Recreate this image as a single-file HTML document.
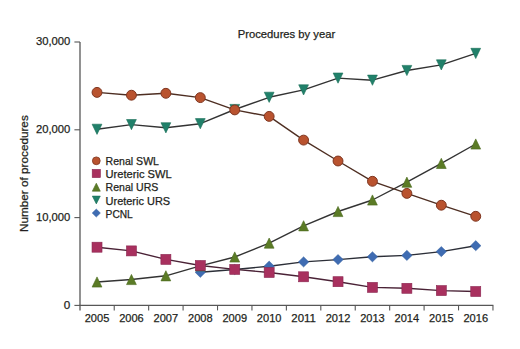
<!DOCTYPE html>
<html><head><meta charset="utf-8"><style>
html,body{margin:0;padding:0;background:#fff;}
svg{display:block;}
text{font-family:"Liberation Sans", sans-serif;fill:#231f20;stroke:#231f20;stroke-width:0.25px;}
</style></head><body>
<svg width="520" height="349" viewBox="0 0 520 349">
<rect width="520" height="349" fill="#fff"/>
<line x1="80" y1="41.9" x2="80" y2="310.4" stroke="#575757" stroke-width="1.3"/>
<line x1="79.4" y1="305.4" x2="493.4" y2="305.4" stroke="#575757" stroke-width="1.1"/>
<line x1="74.4" y1="42.0" x2="80" y2="42.0" stroke="#575757" stroke-width="1.1"/>
<line x1="74.4" y1="129.8" x2="80" y2="129.8" stroke="#575757" stroke-width="1.1"/>
<line x1="74.4" y1="217.6" x2="80" y2="217.6" stroke="#575757" stroke-width="1.1"/>
<line x1="74.4" y1="305.4" x2="80" y2="305.4" stroke="#575757" stroke-width="1.1"/>
<line x1="114.23" y1="305.4" x2="114.23" y2="310.4" stroke="#575757" stroke-width="1.1"/>
<line x1="148.66" y1="305.4" x2="148.66" y2="310.4" stroke="#575757" stroke-width="1.1"/>
<line x1="183.09" y1="305.4" x2="183.09" y2="310.4" stroke="#575757" stroke-width="1.1"/>
<line x1="217.52" y1="305.4" x2="217.52" y2="310.4" stroke="#575757" stroke-width="1.1"/>
<line x1="251.95" y1="305.4" x2="251.95" y2="310.4" stroke="#575757" stroke-width="1.1"/>
<line x1="286.38" y1="305.4" x2="286.38" y2="310.4" stroke="#575757" stroke-width="1.1"/>
<line x1="320.81" y1="305.4" x2="320.81" y2="310.4" stroke="#575757" stroke-width="1.1"/>
<line x1="355.24" y1="305.4" x2="355.24" y2="310.4" stroke="#575757" stroke-width="1.1"/>
<line x1="389.67" y1="305.4" x2="389.67" y2="310.4" stroke="#575757" stroke-width="1.1"/>
<line x1="424.10" y1="305.4" x2="424.10" y2="310.4" stroke="#575757" stroke-width="1.1"/>
<line x1="458.53" y1="305.4" x2="458.53" y2="310.4" stroke="#575757" stroke-width="1.1"/>
<line x1="492.96" y1="305.4" x2="492.96" y2="310.4" stroke="#575757" stroke-width="1.1"/>
<text x="70.3" y="45.4" text-anchor="end" font-size="11.7" textLength="34.4" lengthAdjust="spacingAndGlyphs">30,000</text>
<text x="70.3" y="133.2" text-anchor="end" font-size="11.7" textLength="34.4" lengthAdjust="spacingAndGlyphs">20,000</text>
<text x="70.3" y="221.0" text-anchor="end" font-size="11.7" textLength="34.4" lengthAdjust="spacingAndGlyphs">10,000</text>
<text x="70.3" y="308.8" text-anchor="end" font-size="11.7">0</text>
<text x="97.02" y="321.7" text-anchor="middle" font-size="11.7" textLength="24.6" lengthAdjust="spacingAndGlyphs">2005</text>
<text x="131.44" y="321.7" text-anchor="middle" font-size="11.7" textLength="24.6" lengthAdjust="spacingAndGlyphs">2006</text>
<text x="165.88" y="321.7" text-anchor="middle" font-size="11.7" textLength="24.6" lengthAdjust="spacingAndGlyphs">2007</text>
<text x="200.31" y="321.7" text-anchor="middle" font-size="11.7" textLength="24.6" lengthAdjust="spacingAndGlyphs">2008</text>
<text x="234.74" y="321.7" text-anchor="middle" font-size="11.7" textLength="24.6" lengthAdjust="spacingAndGlyphs">2009</text>
<text x="269.17" y="321.7" text-anchor="middle" font-size="11.7" textLength="24.6" lengthAdjust="spacingAndGlyphs">2010</text>
<text x="303.59" y="321.7" text-anchor="middle" font-size="11.7" textLength="24.6" lengthAdjust="spacingAndGlyphs">2011</text>
<text x="338.03" y="321.7" text-anchor="middle" font-size="11.7" textLength="24.6" lengthAdjust="spacingAndGlyphs">2012</text>
<text x="372.45" y="321.7" text-anchor="middle" font-size="11.7" textLength="24.6" lengthAdjust="spacingAndGlyphs">2013</text>
<text x="406.88" y="321.7" text-anchor="middle" font-size="11.7" textLength="24.6" lengthAdjust="spacingAndGlyphs">2014</text>
<text x="441.31" y="321.7" text-anchor="middle" font-size="11.7" textLength="24.6" lengthAdjust="spacingAndGlyphs">2015</text>
<text x="475.75" y="321.7" text-anchor="middle" font-size="11.7" textLength="24.6" lengthAdjust="spacingAndGlyphs">2016</text>
<text x="286.5" y="37.6" text-anchor="middle" font-size="11.2" textLength="97.5" lengthAdjust="spacingAndGlyphs">Procedures by year</text>
<text transform="translate(28.4,173.6) rotate(-90)" text-anchor="middle" font-size="11.5" textLength="116.7" lengthAdjust="spacingAndGlyphs">Number of procedures</text>
<polyline points="200.31,272.30 234.74,269.50 269.17,266.20 303.59,261.90 338.03,259.60 372.45,256.80 406.88,255.40 441.31,251.60 475.75,245.70" fill="none" stroke="#2c2f38" stroke-width="1.4" stroke-linejoin="round"/>
<polygon points="200.31,267.20 205.50,272.30 200.31,277.40 195.11,272.30" fill="#3f6cb2" stroke="#34609f" stroke-width="0.5"/>
<polygon points="234.74,264.40 239.94,269.50 234.74,274.60 229.54,269.50" fill="#3f6cb2" stroke="#34609f" stroke-width="0.5"/>
<polygon points="269.17,261.10 274.37,266.20 269.17,271.30 263.97,266.20" fill="#3f6cb2" stroke="#34609f" stroke-width="0.5"/>
<polygon points="303.59,256.80 308.79,261.90 303.59,267.00 298.39,261.90" fill="#3f6cb2" stroke="#34609f" stroke-width="0.5"/>
<polygon points="338.03,254.50 343.23,259.60 338.03,264.70 332.83,259.60" fill="#3f6cb2" stroke="#34609f" stroke-width="0.5"/>
<polygon points="372.45,251.70 377.65,256.80 372.45,261.90 367.25,256.80" fill="#3f6cb2" stroke="#34609f" stroke-width="0.5"/>
<polygon points="406.88,250.30 412.08,255.40 406.88,260.50 401.69,255.40" fill="#3f6cb2" stroke="#34609f" stroke-width="0.5"/>
<polygon points="441.31,246.50 446.51,251.60 441.31,256.70 436.12,251.60" fill="#3f6cb2" stroke="#34609f" stroke-width="0.5"/>
<polygon points="475.75,240.60 480.94,245.70 475.75,250.80 470.55,245.70" fill="#3f6cb2" stroke="#34609f" stroke-width="0.5"/>
<polyline points="97.02,129.30 131.44,124.60 165.88,127.80 200.31,123.70 234.74,109.50 269.17,97.30 303.59,89.90 338.03,78.10 372.45,80.20 406.88,70.50 441.31,64.90 475.75,53.40" fill="none" stroke="#333333" stroke-width="1.4" stroke-linejoin="round"/>
<polygon points="92.11,124.20 101.92,124.20 97.02,134.40" fill="#21806a" stroke="#1a6e58" stroke-width="0.6"/>
<polygon points="126.54,119.50 136.34,119.50 131.44,129.70" fill="#21806a" stroke="#1a6e58" stroke-width="0.6"/>
<polygon points="160.97,122.70 170.78,122.70 165.88,132.90" fill="#21806a" stroke="#1a6e58" stroke-width="0.6"/>
<polygon points="195.41,118.60 205.21,118.60 200.31,128.80" fill="#21806a" stroke="#1a6e58" stroke-width="0.6"/>
<polygon points="229.84,104.40 239.64,104.40 234.74,114.60" fill="#21806a" stroke="#1a6e58" stroke-width="0.6"/>
<polygon points="264.27,92.20 274.06,92.20 269.17,102.40" fill="#21806a" stroke="#1a6e58" stroke-width="0.6"/>
<polygon points="298.69,84.80 308.49,84.80 303.59,95.00" fill="#21806a" stroke="#1a6e58" stroke-width="0.6"/>
<polygon points="333.13,73.00 342.93,73.00 338.03,83.20" fill="#21806a" stroke="#1a6e58" stroke-width="0.6"/>
<polygon points="367.56,75.10 377.35,75.10 372.45,85.30" fill="#21806a" stroke="#1a6e58" stroke-width="0.6"/>
<polygon points="401.99,65.40 411.78,65.40 406.88,75.60" fill="#21806a" stroke="#1a6e58" stroke-width="0.6"/>
<polygon points="436.42,59.80 446.21,59.80 441.31,70.00" fill="#21806a" stroke="#1a6e58" stroke-width="0.6"/>
<polygon points="470.85,48.30 480.64,48.30 475.75,58.50" fill="#21806a" stroke="#1a6e58" stroke-width="0.6"/>
<polyline points="97.02,282.00 131.44,279.50 165.88,275.80 200.31,265.90 234.74,257.00 269.17,243.10 303.59,225.80 338.03,211.50 372.45,200.00 406.88,182.20 441.31,163.40 475.75,144.00" fill="none" stroke="#333333" stroke-width="1.4" stroke-linejoin="round"/>
<polygon points="97.02,276.90 101.92,287.10 92.11,287.10" fill="#5b7b26" stroke="#4a6a1c" stroke-width="0.6"/>
<polygon points="131.44,274.40 136.34,284.60 126.54,284.60" fill="#5b7b26" stroke="#4a6a1c" stroke-width="0.6"/>
<polygon points="165.88,270.70 170.78,280.90 160.97,280.90" fill="#5b7b26" stroke="#4a6a1c" stroke-width="0.6"/>
<polygon points="200.31,260.80 205.21,271.00 195.41,271.00" fill="#5b7b26" stroke="#4a6a1c" stroke-width="0.6"/>
<polygon points="234.74,251.90 239.64,262.10 229.84,262.10" fill="#5b7b26" stroke="#4a6a1c" stroke-width="0.6"/>
<polygon points="269.17,238.00 274.06,248.20 264.27,248.20" fill="#5b7b26" stroke="#4a6a1c" stroke-width="0.6"/>
<polygon points="303.59,220.70 308.49,230.90 298.69,230.90" fill="#5b7b26" stroke="#4a6a1c" stroke-width="0.6"/>
<polygon points="338.03,206.40 342.93,216.60 333.13,216.60" fill="#5b7b26" stroke="#4a6a1c" stroke-width="0.6"/>
<polygon points="372.45,194.90 377.35,205.10 367.56,205.10" fill="#5b7b26" stroke="#4a6a1c" stroke-width="0.6"/>
<polygon points="406.88,177.10 411.78,187.30 401.99,187.30" fill="#5b7b26" stroke="#4a6a1c" stroke-width="0.6"/>
<polygon points="441.31,158.30 446.21,168.50 436.42,168.50" fill="#5b7b26" stroke="#4a6a1c" stroke-width="0.6"/>
<polygon points="475.75,138.90 480.64,149.10 470.85,149.10" fill="#5b7b26" stroke="#4a6a1c" stroke-width="0.6"/>
<polyline points="97.02,247.20 131.44,250.90 165.88,259.40 200.31,265.50 234.74,269.40 269.17,272.50 303.59,276.80 338.03,281.70 372.45,287.40 406.88,288.30 441.31,290.60 475.75,291.50" fill="none" stroke="#4a2236" stroke-width="1.4" stroke-linejoin="round"/>
<rect x="92.02" y="242.20" width="10.0" height="10.0" fill="#a8305e" stroke="#8a2650" stroke-width="0.6"/>
<rect x="126.44" y="245.90" width="10.0" height="10.0" fill="#a8305e" stroke="#8a2650" stroke-width="0.6"/>
<rect x="160.88" y="254.40" width="10.0" height="10.0" fill="#a8305e" stroke="#8a2650" stroke-width="0.6"/>
<rect x="195.31" y="260.50" width="10.0" height="10.0" fill="#a8305e" stroke="#8a2650" stroke-width="0.6"/>
<rect x="229.74" y="264.40" width="10.0" height="10.0" fill="#a8305e" stroke="#8a2650" stroke-width="0.6"/>
<rect x="264.17" y="267.50" width="10.0" height="10.0" fill="#a8305e" stroke="#8a2650" stroke-width="0.6"/>
<rect x="298.59" y="271.80" width="10.0" height="10.0" fill="#a8305e" stroke="#8a2650" stroke-width="0.6"/>
<rect x="333.03" y="276.70" width="10.0" height="10.0" fill="#a8305e" stroke="#8a2650" stroke-width="0.6"/>
<rect x="367.45" y="282.40" width="10.0" height="10.0" fill="#a8305e" stroke="#8a2650" stroke-width="0.6"/>
<rect x="401.88" y="283.30" width="10.0" height="10.0" fill="#a8305e" stroke="#8a2650" stroke-width="0.6"/>
<rect x="436.31" y="285.60" width="10.0" height="10.0" fill="#a8305e" stroke="#8a2650" stroke-width="0.6"/>
<rect x="470.75" y="286.50" width="10.0" height="10.0" fill="#a8305e" stroke="#8a2650" stroke-width="0.6"/>
<polyline points="97.02,92.40 131.44,95.20 165.88,93.30 200.31,97.60 234.74,109.90 269.17,116.40 303.59,140.10 338.03,161.00 372.45,181.30 406.88,193.40 441.31,205.20 475.75,216.30" fill="none" stroke="#4e2e22" stroke-width="1.4" stroke-linejoin="round"/>
<circle cx="97.02" cy="92.40" r="4.95" fill="#b9532f" stroke="#7f3620" stroke-width="1.0"/>
<circle cx="131.44" cy="95.20" r="4.95" fill="#b9532f" stroke="#7f3620" stroke-width="1.0"/>
<circle cx="165.88" cy="93.30" r="4.95" fill="#b9532f" stroke="#7f3620" stroke-width="1.0"/>
<circle cx="200.31" cy="97.60" r="4.95" fill="#b9532f" stroke="#7f3620" stroke-width="1.0"/>
<circle cx="234.74" cy="109.90" r="4.95" fill="#b9532f" stroke="#7f3620" stroke-width="1.0"/>
<circle cx="269.17" cy="116.40" r="4.95" fill="#b9532f" stroke="#7f3620" stroke-width="1.0"/>
<circle cx="303.59" cy="140.10" r="4.95" fill="#b9532f" stroke="#7f3620" stroke-width="1.0"/>
<circle cx="338.03" cy="161.00" r="4.95" fill="#b9532f" stroke="#7f3620" stroke-width="1.0"/>
<circle cx="372.45" cy="181.30" r="4.95" fill="#b9532f" stroke="#7f3620" stroke-width="1.0"/>
<circle cx="406.88" cy="193.40" r="4.95" fill="#b9532f" stroke="#7f3620" stroke-width="1.0"/>
<circle cx="441.31" cy="205.20" r="4.95" fill="#b9532f" stroke="#7f3620" stroke-width="1.0"/>
<circle cx="475.75" cy="216.30" r="4.95" fill="#b9532f" stroke="#7f3620" stroke-width="1.0"/>
<circle cx="96.30" cy="160.80" r="3.9" fill="#b9532f" stroke="#7f3620" stroke-width="0.8"/>
<text x="105.6" y="164.8" font-size="10.8" textLength="53.4" lengthAdjust="spacingAndGlyphs">Renal SWL</text>
<rect x="92.20" y="169.40" width="8.2" height="8.2" fill="#a8305e" stroke="#8a2650" stroke-width="0.6"/>
<text x="105.6" y="177.9" font-size="10.8" textLength="66.1" lengthAdjust="spacingAndGlyphs">Ureteric SWL</text>
<polygon points="96.30,183.20 100.30,191.20 92.30,191.20" fill="#5b7b26" stroke="#4a6a1c" stroke-width="0.6"/>
<text x="105.6" y="191.4" font-size="10.8" textLength="52.7" lengthAdjust="spacingAndGlyphs">Renal URS</text>
<polygon points="92.30,196.10 100.30,196.10 96.30,203.90" fill="#21806a" stroke="#1a6e58" stroke-width="0.6"/>
<text x="105.6" y="204.5" font-size="10.8" textLength="64.5" lengthAdjust="spacingAndGlyphs">Ureteric URS</text>
<polygon points="96.30,209.05 100.40,213.05 96.30,217.05 92.20,213.05" fill="#3f6cb2" stroke="#34609f" stroke-width="0.5"/>
<text x="105.6" y="217.6" font-size="10.8" textLength="27.2" lengthAdjust="spacingAndGlyphs">PCNL</text>
</svg>
</body></html>
